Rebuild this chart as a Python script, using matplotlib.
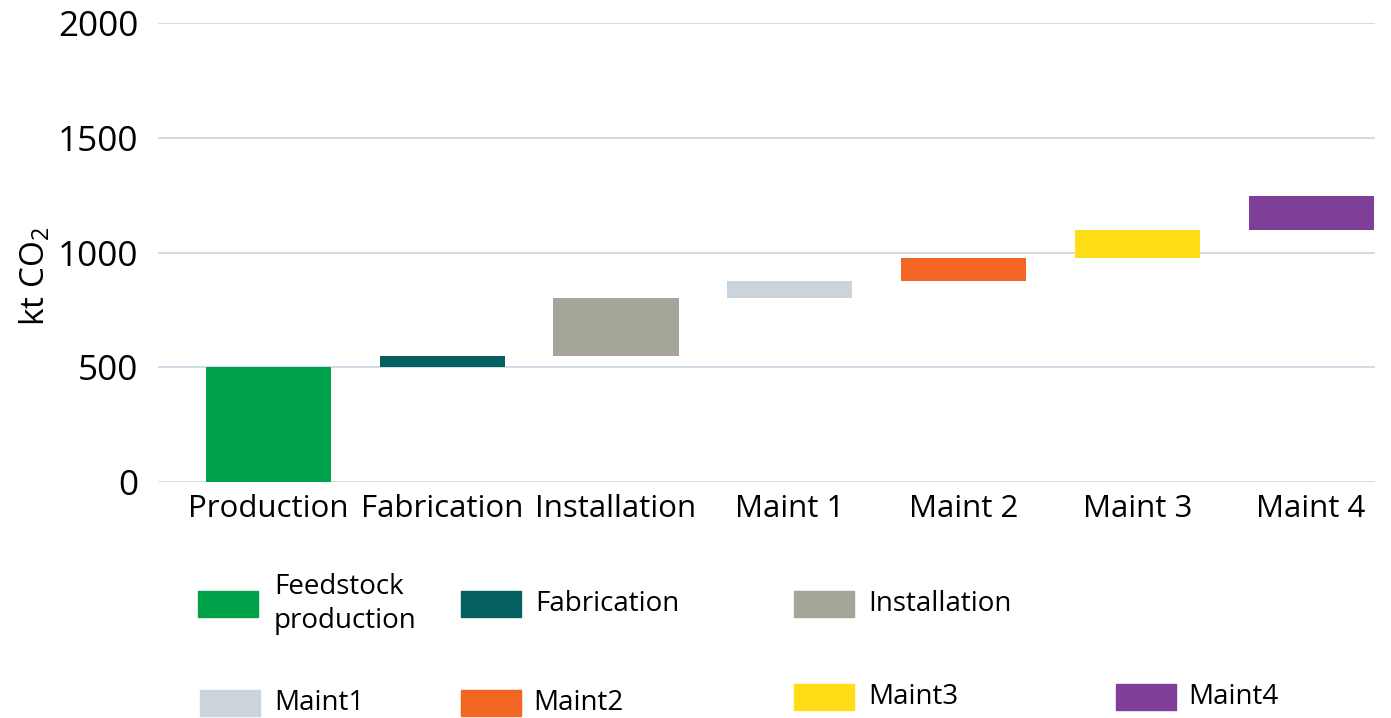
import matplotlib
matplotlib.use('Agg')
import matplotlib.pyplot as plt
from matplotlib.patches import Rectangle

# waterfall data (kt CO2)
stages = ['Production', 'Fabrication', 'Installation', 'Maint 1', 'Maint 2', 'Maint 3', 'Maint 4']
bottoms = [0, 500, 550, 800, 875, 975, 1100]
tops = [500, 550, 800, 875, 975, 1100, 1245]
colors = ['#00A14B', '#045F5F', '#A5A59A', '#CBD3DB', '#F26522', '#FFDD17', '#7F3F98']
legend_labels = ['Feedstock\nproduction', 'Fabrication', 'Installation',
                 'Maint1', 'Maint2', 'Maint3', 'Maint4']
yticks = [0, 500, 1000, 1500, 2000]

plt.rcParams['font.family'] = ['Open Sans', 'DejaVu Sans']
plt.rcParams['mathtext.fontset'] = 'custom'
plt.rcParams['mathtext.rm'] = 'Open Sans'

W, H = 1391, 718
fig = plt.figure(figsize=(W / 100, H / 100), dpi=100)
ax = fig.add_axes([158 / W, 1 - 482 / H, (1375 - 158) / W, (482 - 23) / H])

x = list(range(len(stages)))
heights = [t - b for t, b in zip(tops, bottoms)]
ax.bar(x, heights, bottom=bottoms, width=0.72, color=colors, zorder=3)

ax.set_ylim(0, 2000)
ax.set_xlim(-0.636, 6.368)
ax.set_yticks(yticks)
ax.set_xticks(x)
ax.set_xticklabels(stages, fontsize=22.5)
ax.tick_params(axis='y', length=0, pad=14, labelsize=25.3)
ax.tick_params(axis='x', length=0, pad=8.5)
ax.yaxis.grid(True, color='#C9D6E3', linewidth=1.2, zorder=0)
for s in ax.spines.values():
    s.set_visible(False)

ax.set_ylabel(r'kt CO$_\mathregular{2}$', fontsize=24)
ax.yaxis.set_label_coords((52 - 158) / 1217, (482 - 276) / 459)

# legend drawn by hand, the original places it loosely in two rows (pixel layout)
sw_x = [198, 461, 794, 200, 461, 794, 1116]
sw_y = [591, 591, 591, 690, 690, 684, 684]
txt_x = [274, 535, 868, 274, 533, 868, 1188]
sw_w, sw_h = 60, 26
for lab, c, px, py, tx in zip(legend_labels, colors, sw_x, sw_y, txt_x):
    fig.add_artist(Rectangle((px / W, 1 - (py + sw_h) / H), sw_w / W, sw_h / H,
                             color=c, transform=fig.transFigure))
    fig.text(tx / W, 1 - (py + sw_h / 2) / H, lab, fontsize=20,
             va='center', ha='left', linespacing=1.25)

fig.savefig('out.png', dpi=100)
